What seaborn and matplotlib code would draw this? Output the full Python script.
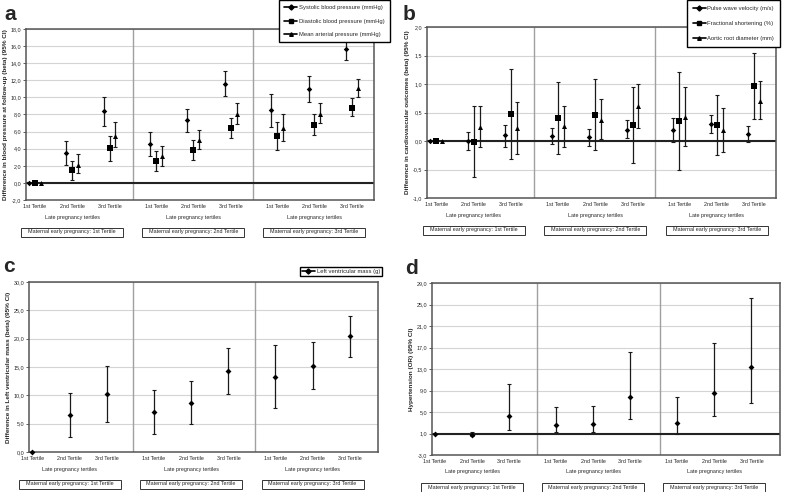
import numpy as np
import pandas as pd
import matplotlib
matplotlib.use("Agg")
import matplotlib.pyplot as plt
from matplotlib.lines import Line2D
from matplotlib.patches import Rectangle
from matplotlib.ticker import FuncFormatter
import seaborn as sns

# ---- data ----
tertile_labels = ["1st Tertile", "2nd Tertile", "3rd Tertile"]
late_label = "Late pregnancy tertiles"
early_labels = ["Maternal early pregnancy: 1st Tertile",
                "Maternal early pregnancy: 2nd Tertile",
                "Maternal early pregnancy: 3rd Tertile"]

# panel a: blood pressure
sbp_est = [0, 3.5, 8.4, 4.5, 7.3, 11.6, 8.5, 11.0, 15.7]
sbp_lo = [0, 2.1, 6.6, 3.2, 6.0, 10.2, 6.5, 9.5, 14.4]
sbp_hi = [0, 4.9, 10.1, 5.9, 8.7, 13.1, 10.4, 12.5, 17.0]
dbp_est = [0, 1.5, 4.1, 2.6, 3.9, 6.4, 5.5, 6.8, 8.8]
dbp_lo = [0, 0.3, 2.6, 1.4, 2.7, 5.2, 3.9, 5.6, 7.8]
dbp_hi = [0, 2.6, 5.5, 3.7, 5.0, 7.6, 7.1, 8.0, 9.9]
map_est = [0, 2.1, 5.5, 3.1, 5.0, 8.0, 6.4, 8.1, 11.1]
map_lo = [0, 1.1, 4.2, 2.0, 4.0, 6.9, 4.9, 7.0, 10.1]
map_hi = [0, 3.4, 7.1, 4.3, 6.2, 9.3, 8.1, 9.4, 12.2]

# panel b: cardiovascular outcomes
pwv_est = [0, 0.0, 0.10, 0.09, 0.07, 0.20, 0.20, 0.30, 0.13]
pwv_lo = [0, -0.15, -0.10, -0.06, -0.08, 0.05, -0.02, 0.14, -0.01]
pwv_hi = [0, 0.15, 0.28, 0.23, 0.21, 0.36, 0.41, 0.46, 0.27]
fs_est = [0, -0.01, 0.47, 0.41, 0.46, 0.28, 0.35, 0.28, 0.96]
fs_lo = [0, -0.64, -0.32, -0.22, -0.15, -0.39, -0.51, -0.25, 0.38]
fs_hi = [0, 0.62, 1.27, 1.04, 1.08, 0.95, 1.21, 0.80, 1.55]
ard_est = [0, 0.25, 0.23, 0.26, 0.37, 0.61, 0.42, 0.19, 0.71]
ard_lo = [0, -0.11, -0.22, -0.10, 0.03, 0.22, -0.09, -0.20, 0.38]
ard_hi = [0, 0.62, 0.69, 0.62, 0.74, 1.00, 0.94, 0.58, 1.06]

# panel c: left ventricular mass
lvm_est = [0, 6.6, 10.2, 7.1, 8.7, 14.3, 13.3, 15.2, 20.4]
lvm_lo = [0, 2.7, 5.3, 3.2, 4.9, 10.2, 7.8, 11.1, 16.8]
lvm_hi = [0, 10.5, 15.1, 11.0, 12.5, 18.4, 18.8, 19.4, 24.0]

# panel d: hypertension OR
ht_est = [1.0, 0.7, 4.2, 2.6, 2.75, 7.7, 2.9, 8.5, 13.3]
ht_lo = [1.0, 0.45, 1.7, 1.2, 1.2, 3.7, 1.0, 4.2, 6.7]
ht_hi = [1.0, 1.3, 10.2, 5.9, 6.2, 16.2, 7.8, 17.8, 26.3]

# ---- style ----
sns.set_style("white")
plt.rcParams['font.family'] = ['Liberation Sans', 'DejaVu Sans']

W, H = 793, 492
fig = plt.figure(figsize=(W / 100, H / 100), dpi=100)
SMALL = 3.9


def px_axes(l, t, r, b):
    return fig.add_axes([l / W, 1 - b / H, (r - l) / W, (b - t) / H])


def comma(v, _):
    return ("%.1f" % v).replace('.', ',')


def draw_panel(ax, series, yticks, ylabel, refline, start, seps, spread):
    centers = np.array([start + 0.348 * g + 0.107 * t for g in range(3) for t in range(3)])
    n = len(series)
    offs = (np.arange(n) - (n - 1) / 2) * spread
    for i, (name, marker, size, est, lo, hi) in enumerate(series):
        est, lo, hi = np.array(est), np.array(lo), np.array(hi)
        x = centers + offs[i]
        ok = hi > lo
        ax.errorbar(x[ok], est[ok], yerr=[est[ok] - lo[ok], hi[ok] - est[ok]], fmt='none',
                    ecolor='#1a1a1a', elinewidth=0.9, capsize=1.4, capthick=0.8, zorder=3)
        df = pd.DataFrame({'x': x, 'est': est, 'measure': name})
        sns.scatterplot(data=df, x='x', y='est', marker=marker, s=size, color='black',
                        edgecolor='black', linewidth=0, legend=False, ax=ax, zorder=4, clip_on=False)
    for s in seps:
        ax.axvline(s, color='#a0a0a0', lw=1.0, zorder=1)
    if refline is not None:
        ax.axhline(refline, color='#222222', lw=1.5, zorder=2)
    ax.set_xlim(0, 1)
    ax.set_ylim(yticks[0], yticks[-1])
    ax.set_yticks(yticks)
    ax.yaxis.set_major_formatter(FuncFormatter(comma))
    ax.yaxis.grid(True, color='#d4d4d4', lw=0.8)
    ax.set_axisbelow(True)
    ax.set_xticks(centers)
    ax.set_xticklabels(tertile_labels * 3)
    ax.tick_params(axis='x', length=0, pad=3, labelsize=SMALL)
    ax.tick_params(axis='y', left=True, length=2, width=0.6, pad=1.5, labelsize=SMALL, color='#444444')
    ax.set_xlabel('')
    ax.set_ylabel(ylabel, fontsize=4.6, fontweight='bold', labelpad=2)
    for sp in ax.spines.values():
        sp.set_color('#555555')
        sp.set_linewidth(1.1)

    # group labels and boxes under the axes
    pos = ax.get_position()
    bottom_px = (1 - pos.y0) * H
    for g in range(3):
        xc = pos.x0 + pos.width * centers[3 * g + 1]
        fig.text(xc, 1 - (bottom_px + 17) / H, late_label, ha='center', va='center', fontsize=SMALL)
        bw, bh = 102 / W, 9 / H
        yc = 1 - (bottom_px + 32) / H
        fig.add_artist(Rectangle((xc - bw / 2, yc - bh / 2), bw, bh, transform=fig.transFigure,
                                 fc='white', ec='#333333', lw=0.7))
        fig.text(xc, yc, early_labels[g], ha='center', va='center', fontsize=SMALL)


def legend_handle(marker):
    return Line2D([], [], color='black', lw=1.2, marker=marker, markersize=2.6)


# panel a
ax_a = px_axes(26, 29, 374, 200)
draw_panel(ax_a,
           [("Systolic blood pressure (mmHg)", 'D', 8, sbp_est, sbp_lo, sbp_hi),
            ("Diastolic blood pressure (mmHg)", 's', 14, dbp_est, dbp_lo, dbp_hi),
            ("Mean arterial pressure (mmHg)", '^', 13, map_est, map_lo, map_hi)],
           np.arange(-2, 18.1, 2), "Difference in blood pressure at follow-up (beta) (95% CI)",
           0, 0.026, [0.308, 0.653], 0.017)

# panel b
ax_b = px_axes(427, 27, 776, 198)
draw_panel(ax_b,
           [("Pulse wave velocity (m/s)", 'D', 8, pwv_est, pwv_lo, pwv_hi),
            ("Fractional shortening (%)", 's', 14, fs_est, fs_lo, fs_hi),
            ("Aortic root diameter (mm)", '^', 13, ard_est, ard_lo, ard_hi)],
           np.arange(-1, 2.01, 0.5), "Difference in cardiovascular outcomes (beta) (95% CI)",
           0, 0.027, [0.308, 0.654], 0.017)

# panel c
ax_c = px_axes(29, 282, 378, 452)
draw_panel(ax_c, [("Left ventricular mass (g)", 'D', 9, lvm_est, lvm_lo, lvm_hi)],
           np.arange(0, 30.1, 5), "Difference in Left ventricular mass (beta) (95% CI)",
           None, 0.0095, [0.299, 0.648], 0)

# panel d
ax_d = px_axes(432, 283, 780, 455)
draw_panel(ax_d, [("Hypertension", 'D', 9, ht_est, ht_lo, ht_hi)],
           np.arange(-3, 29.1, 4), "Hypertension (OR) (95% CI)",
           1, 0.008, [0.303, 0.655], 0)

# legends
leg_kw = dict(loc='upper left', fontsize=4.2, frameon=True, fancybox=False, edgecolor='black',
              framealpha=1, handlelength=2.2, handletextpad=0.3, borderaxespad=0)
la = fig.legend([legend_handle('D'), legend_handle('s'), legend_handle('^')],
                ["Systolic blood pressure (mmHg)", "Diastolic blood pressure (mmHg)",
                 "Mean arterial pressure (mmHg)"],
                bbox_to_anchor=(279 / W, 1.0), labelspacing=1.4, borderpad=0.9, **leg_kw)
lb = fig.legend([legend_handle('D'), legend_handle('s'), legend_handle('^')],
                ["Pulse wave velocity (m/s)", "Fractional shortening (%)", "Aortic root diameter (mm)"],
                bbox_to_anchor=(687 / W, 1.0), labelspacing=1.7, borderpad=1.0, **leg_kw)
lc = fig.legend([legend_handle('D')], ["Left ventricular mass (g)"],
                bbox_to_anchor=(300 / W, 1 - 267 / H), borderpad=0.35, **leg_kw)

# panel letters
for letter, x, y in [('a', 4, 14), ('b', 403, 14), ('c', 3, 267), ('d', 405, 268)]:
    fig.text(x / W, 1 - y / H, letter, fontsize=15, fontweight='bold', ha='left', va='center')

fig.savefig("out.png", dpi=100)
